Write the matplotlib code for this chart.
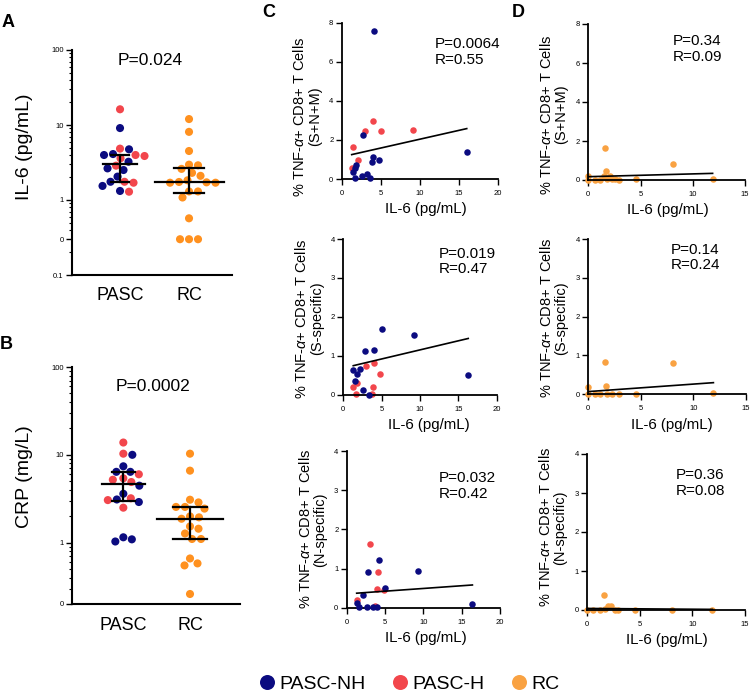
import numpy as np
import matplotlib
matplotlib.use("Agg")
import matplotlib.pyplot as plt
from matplotlib.lines import Line2D
from matplotlib.ticker import FixedLocator, NullFormatter

plt.rcParams['font.family'] = ['Liberation Sans', 'DejaVu Sans']
plt.rcParams['mathtext.fontset'] = 'custom'
plt.rcParams['mathtext.it'] = 'Liberation Sans:italic'
plt.rcParams['mathtext.rm'] = 'Liberation Sans'

NAVY = '#0b0b80'
RED = '#f2464c'
ORANGE = '#ff911f'
ORANGE_D = '#f9a242'
grp_color = {'NH': NAVY, 'H': RED}

# === Panel A: IL-6 (pg/mL) ===
il6_pasc = [16.2, 9.1, 4.74, 4.84, 3.98, 3.86, 3.6, 3.98, 4.1, 3.24,
            2.87, 2.51, 2.64, 2.05, 1.75, 1.75, 1.7, 1.54, 1.29, 1.32]
il6_pasc_grp = ['H', 'NH', 'NH', 'H', 'H', 'H', 'H', 'NH', 'NH', 'NH',
                'H', 'NH', 'NH', 'NH', 'H', 'NH', 'H', 'NH', 'H', 'NH']
il6_rc = [12.0, 8.1, 4.5, 2.96, 2.9, 2.6, 2.1, 2.3, 1.74, 1.72,
          1.7, 1.7, 1.83, 1.3, 1.3, 1.08, 0.57, 0, 0, 0]

# === Panel B: CRP (mg/L) ===
crp_pasc = [13.8, 10.3, 10.0, 7.4, 6.4, 6.4, 5.4, 4.9, 5.2, 6.0,
            4.45, 3.6, 3.1, 2.9, 3.05, 3.2, 2.5, 1.15, 1.03, 1.09]
crp_pasc_grp = ['H', 'H', 'NH', 'NH', 'NH', 'NH', 'H', 'H', 'H', 'H',
                'NH', 'NH', 'NH', 'NH', 'H', 'H', 'H', 'NH', 'NH', 'NH']
crp_rc = [10.3, 6.6, 3.08, 2.55, 2.44, 2.55, 2.87, 1.99, 1.87, 1.94,
          1.53, 1.44, 1.27, 1.1, 1.1, 0.58, 0.55, 0.66, 0.26]

p_values_ab = ['P=0.024', 'P=0.0002']

# === Panel C: PASC, TNF-a+ CD8+ vs IL-6 ===
c1_nh_x = [4.09, 2.68, 3.96, 3.84, 4.81, 16.0, 1.83, 1.7, 1.48, 1.7, 2.56, 3.2, 3.62]
c1_nh_y = [7.56, 2.25, 1.14, 0.89, 0.97, 1.38, 0.72, 0.55, 0.37, 0.03, 0.15, 0.26, 0.07]
c1_h_x = [3.96, 2.98, 4.99, 9.06, 1.41, 2.12, 1.28]
c1_h_y = [2.98, 2.46, 2.46, 2.5, 1.62, 0.97, 0.55]

c2_nh_x = [5.0, 9.2, 16.3, 2.78, 4.04, 1.3, 2.17, 1.83, 1.57, 2.57, 3.3]
c2_nh_y = [1.70, 1.54, 0.51, 1.13, 1.14, 0.64, 0.65, 0.53, 0.34, 0.13, 0.0]
c2_h_x = [2.9, 4.04, 4.78, 1.3, 1.7, 3.87, 3.8, 1.83]
c2_h_y = [0.75, 0.81, 0.52, 0.19, 0.02, 0.2, 0.03, 0.29]

c3_nh_x = [4.17, 2.78, 9.26, 5.04, 16.4, 2.17, 1.3, 1.57, 2.6, 3.4, 4.0]
c3_nh_y = [1.23, 0.91, 0.94, 0.51, 0.085, 0.32, 0.13, 0.03, 0.02, 0.02, 0.02]
c3_h_x = [3.0, 4.04, 3.9, 4.83, 1.3, 3.7]
c3_h_y = [1.63, 0.9, 0.47, 0.45, 0.2, 0.05]

# === Panel D: RC, TNF-a+ CD8+ vs IL-6 ===
d1_x = [0, 0, 0.64, 1.1, 1.53, 1.6, 1.66, 1.76, 2.08, 2.3, 2.6, 2.9, 4.54, 8.08, 11.9]
d1_y = [0.22, 0.0, 0.0, 0.0, 0.22, 1.62, 0.46, 0.05, 0.22, 0.05, 0.05, 0.0, 0.05, 0.84, 0.05]
d2_x = [0, 0, 0.64, 1.1, 1.63, 1.73, 1.76, 2.3, 2.9, 4.57, 8.1, 11.9]
d2_y = [0.19, 0.0, 0.0, 0.02, 0.84, 0.21, 0.02, 0.02, 0.0, 0.02, 0.80, 0.03]
d3_x = [0, 0.57, 1.2, 1.63, 1.7, 2.0, 2.3, 2.6, 2.9, 4.55, 8.1, 11.9]
d3_y = [0, 0, 0, 0.38, 0.02, 0.11, 0.09, 0.0, 0.0, 0.0, 0.0, 0.0]

# linear fits: (intercept, slope)
fit_c = [(1.133, 0.0904), (0.685, 0.0466), (0.352, 0.0139)]
fit_d = [(0.17, 0.0143), (0.07, 0.0193), (0.04, -0.002)]
stats_c = ['P=0.0064\nR=0.55', 'P=0.019\nR=0.47', 'P=0.032\nR=0.42']
stats_d = ['P=0.34\nR=0.09', 'P=0.14\nR=0.24', 'P=0.36\nR=0.08']
subsets = ['(S+N+M)', '(S-specific)', '(N-specific)']

W, H = 750, 693
fig = plt.figure(figsize=(W / 100, H / 100), dpi=100)


def px_axes(left, top, right, bottom):
    return fig.add_axes([left / W, 1 - bottom / H, (right - left) / W, (bottom - top) / H])


def style(ax, lw=1.5):
    for s in ['top', 'right']:
        ax.spines[s].set_visible(False)
    for s in ['left', 'bottom']:
        ax.spines[s].set_linewidth(lw)
    ax.tick_params(which='major', length=4, width=1, labelsize=5.5, pad=2)
    ax.tick_params(which='minor', length=2, width=0.8)


def swarm_x(ax, center, vals, diam):
    vals = np.asarray(vals, float)
    pts = ax.transData.transform(np.column_stack([np.full(len(vals), center), vals]))
    order = np.argsort(-vals, kind='stable')
    offsets = sorted(np.arange(-80, 80.5, 0.5), key=lambda o: (abs(o), -o))
    placed = []
    xs = np.zeros(len(vals))
    for i in order:
        x0, y0 = pts[i]
        for off in offsets:
            if all((x0 + off - px) ** 2 + (y0 - py) ** 2 >= diam ** 2 for px, py in placed):
                break
        placed.append((x0 + off, y0))
        xs[i] = x0 + off
    return ax.transData.inverted().transform(np.column_stack([xs, pts[:, 1]]))[:, 0]


def dot_panel(ax, pasc, pasc_grp, rc, zero_pos, med_hw, cap_hw):
    groups = [(0, np.where(np.asarray(pasc) > 0, pasc, zero_pos), [grp_color[g] for g in pasc_grp]),
              (1, np.where(np.asarray(rc) > 0, rc, zero_pos), [ORANGE] * len(rc))]
    for k, (xc, v, cols) in enumerate(groups):
        xs = swarm_x(ax, xc, v, 8.6)
        ax.scatter(xs, v, s=34, c=cols, linewidths=0, zorder=2, clip_on=False)
        raw = np.asarray([pasc, rc][k], float)
        q1, med, q3 = np.percentile(raw, [25, 50, 75])
        ax.plot([xc, xc], [q1, q3], color='black', lw=1.6, zorder=3)
        ax.plot([xc - cap_hw[k], xc + cap_hw[k]], [q1, q1], color='black', lw=1.6, zorder=3)
        ax.plot([xc - cap_hw[k], xc + cap_hw[k]], [q3, q3], color='black', lw=1.6, zorder=3)
        ax.plot([xc - med_hw[k], xc + med_hw[k]], [med, med], color='black', lw=1.6, zorder=3)
    ax.set_xticks([0, 1])
    ax.set_xticklabels(['PASC', 'RC'], fontsize=13)
    ax.tick_params(axis='x', length=0, pad=9)
    ax.tick_params(axis='x', labelsize=13)


# ---- A ----
axA = px_axes(72, 50, 232, 275)
axA.set_yscale('log')
axA.set_ylim(0.1, 100)
axA.set_xlim(-0.696, 1.623)
style(axA)
dot_panel(axA, il6_pasc, il6_pasc_grp, il6_rc, 0.3, [0.24, 0.5], [0.13, 0.22])
axA.yaxis.set_major_locator(FixedLocator([0.1, 0.3, 1, 10, 100]))
axA.set_yticklabels(['0.1', '0', '1', '10', '100'])
axA.yaxis.set_minor_locator(FixedLocator([0.2, 0.4, 0.5, 0.6, 0.7, 0.8, 0.9]
                                         + [i for i in range(2, 10)] + [10 * i for i in range(2, 10)]))
axA.yaxis.set_minor_formatter(NullFormatter())
axA.set_ylabel('IL-6 (pg/mL)', fontsize=14)
axA.yaxis.set_label_coords(-0.245, 0.57)
axA.text(0.49, 0.955, p_values_ab[0], transform=axA.transAxes, ha='center', va='center', fontsize=12.5)

# ---- B ----
axB = px_axes(72, 367, 240, 604)
axB.set_yscale('log')
axB.set_ylim(0.2, 100)
axB.set_xlim(-0.77, 1.75)
style(axB)
dot_panel(axB, crp_pasc, crp_pasc_grp, crp_rc, 0.2, [0.32, 0.5], [0.17, 0.25])
axB.yaxis.set_major_locator(FixedLocator([0.2, 1, 10, 100]))
axB.set_yticklabels(['0', '1', '10', '100'])
axB.yaxis.set_minor_locator(FixedLocator([0.3, 0.4, 0.5, 0.6, 0.7, 0.8, 0.9]
                                         + [i for i in range(2, 10)] + [10 * i for i in range(2, 10)]))
axB.yaxis.set_minor_formatter(NullFormatter())
axB.set_ylabel('CRP (mg/L)', fontsize=14)
axB.yaxis.set_label_coords(-0.232, 0.537)
axB.text(0.48, 0.917, p_values_ab[1], transform=axB.transAxes, ha='center', va='center', fontsize=12.5)

# ---- C ----
c_boxes = [(341.7, 22.7, 498, 179), (343.3, 239, 496.6, 394.7), (346.7, 451, 500, 607.7)]
c_data = [(c1_nh_x, c1_nh_y, c1_h_x, c1_h_y), (c2_nh_x, c2_nh_y, c2_h_x, c2_h_y),
          (c3_nh_x, c3_nh_y, c3_h_x, c3_h_y)]
c_ymax = [8, 4, 4]
c_stat_pos = [(0.597, 0.907), (0.624, 0.95), (0.602, 0.872)]
c_ylab_y = [0.40, 0.49, 0.50]
c_xlab_x = [0.54, 0.56, 0.515]
for i in range(3):
    ax = px_axes(*c_boxes[i])
    style(ax, 1.3)
    nx, ny, hx, hy = c_data[i]
    ax.scatter(hx, hy, s=22, color=RED, linewidths=0, zorder=2, clip_on=False)
    ax.scatter(nx, ny, s=22, color=NAVY, linewidths=0, zorder=3, clip_on=False)
    allx = np.array(nx + hx)
    xl = np.array([allx.min(), allx.max()])
    b0, b1 = fit_c[i]
    ax.plot(xl, b0 + b1 * xl, color='black', lw=1.2, zorder=4)
    ax.set_xlim(0, 20)
    ax.set_ylim(0, c_ymax[i])
    ax.set_xticks([0, 5, 10, 15, 20])
    ax.set_yticks(range(0, c_ymax[i] + 1, 2 if c_ymax[i] == 8 else 1))
    ax.tick_params(axis='x', pad=4)
    ax.set_ylabel('% TNF-$\\alpha$+ CD8+ T Cells\n' + subsets[i], fontsize=10.5, linespacing=1.05)
    ax.yaxis.set_label_coords(-0.128, c_ylab_y[i])
    ax.set_xlabel('IL-6 (pg/mL)', fontsize=10.8)
    ax.xaxis.set_label_coords(c_xlab_x[i], -0.15)
    ax.text(c_stat_pos[i][0], c_stat_pos[i][1], stats_c[i], transform=ax.transAxes,
            ha='left', va='top', fontsize=11, linespacing=1.15)

# ---- D ----
d_boxes = [(588.3, 24, 745, 180), (588.3, 239, 746, 394.3), (587.3, 454, 745, 610)]
d_data = [(d1_x, d1_y), (d2_x, d2_y), (d3_x, d3_y)]
d_ymax = [8, 4, 4]
d_stat_pos = [(0.539, 0.934), (0.522, 0.976), (0.56, 0.908)]
d_ylab_y = [0.42, 0.49, 0.53]
d_xlab_x = [0.51, 0.53, 0.507]
for i in range(3):
    ax = px_axes(*d_boxes[i])
    style(ax, 1.3)
    dx, dy = d_data[i]
    ax.scatter(dx, dy, s=22, color=ORANGE_D, linewidths=0, zorder=2, clip_on=False)
    xl = np.array([min(dx), max(dx)])
    b0, b1 = fit_d[i]
    ax.plot(xl, b0 + b1 * xl, color='black', lw=1.2, zorder=4)
    ax.set_xlim(0, 15)
    ax.set_ylim(0, d_ymax[i])
    ax.set_xticks([0, 5, 10, 15])
    ax.set_yticks(range(0, d_ymax[i] + 1, 2 if d_ymax[i] == 8 else 1))
    ax.tick_params(axis='x', pad=4)
    ax.set_ylabel('% TNF-$\\alpha$+ CD8+ T Cells\n' + subsets[i], fontsize=10.5, linespacing=1.05)
    ax.yaxis.set_label_coords(-0.128, d_ylab_y[i])
    ax.set_xlabel('IL-6 (pg/mL)', fontsize=10.8)
    ax.xaxis.set_label_coords(d_xlab_x[i], -0.15)
    ax.text(d_stat_pos[i][0], d_stat_pos[i][1], stats_d[i], transform=ax.transAxes,
            ha='left', va='top', fontsize=11, linespacing=1.15)

# panel letters
for lab, x, y in [('A', 2, 14), ('B', 0, 336), ('C', 262, 4), ('D', 512, 4)]:
    fig.text(x / W, 1 - y / H, lab, fontsize=13, fontweight='bold', ha='left', va='top')

# legend
handles = [Line2D([], [], ls='none', marker='o', ms=10.8, mfc=c, mec='none')
           for c in [NAVY, RED, ORANGE_D]]
fig.legend(handles, ['PASC-NH', 'PASC-H', 'RC'], ncol=3, loc='center',
           bbox_to_anchor=(409.5 / W, 1 - 684 / H), frameon=False, fontsize=14,
           handlelength=0.8, handletextpad=0.25, columnspacing=1.35, borderpad=0)

fig.savefig('out.png', dpi=100)
